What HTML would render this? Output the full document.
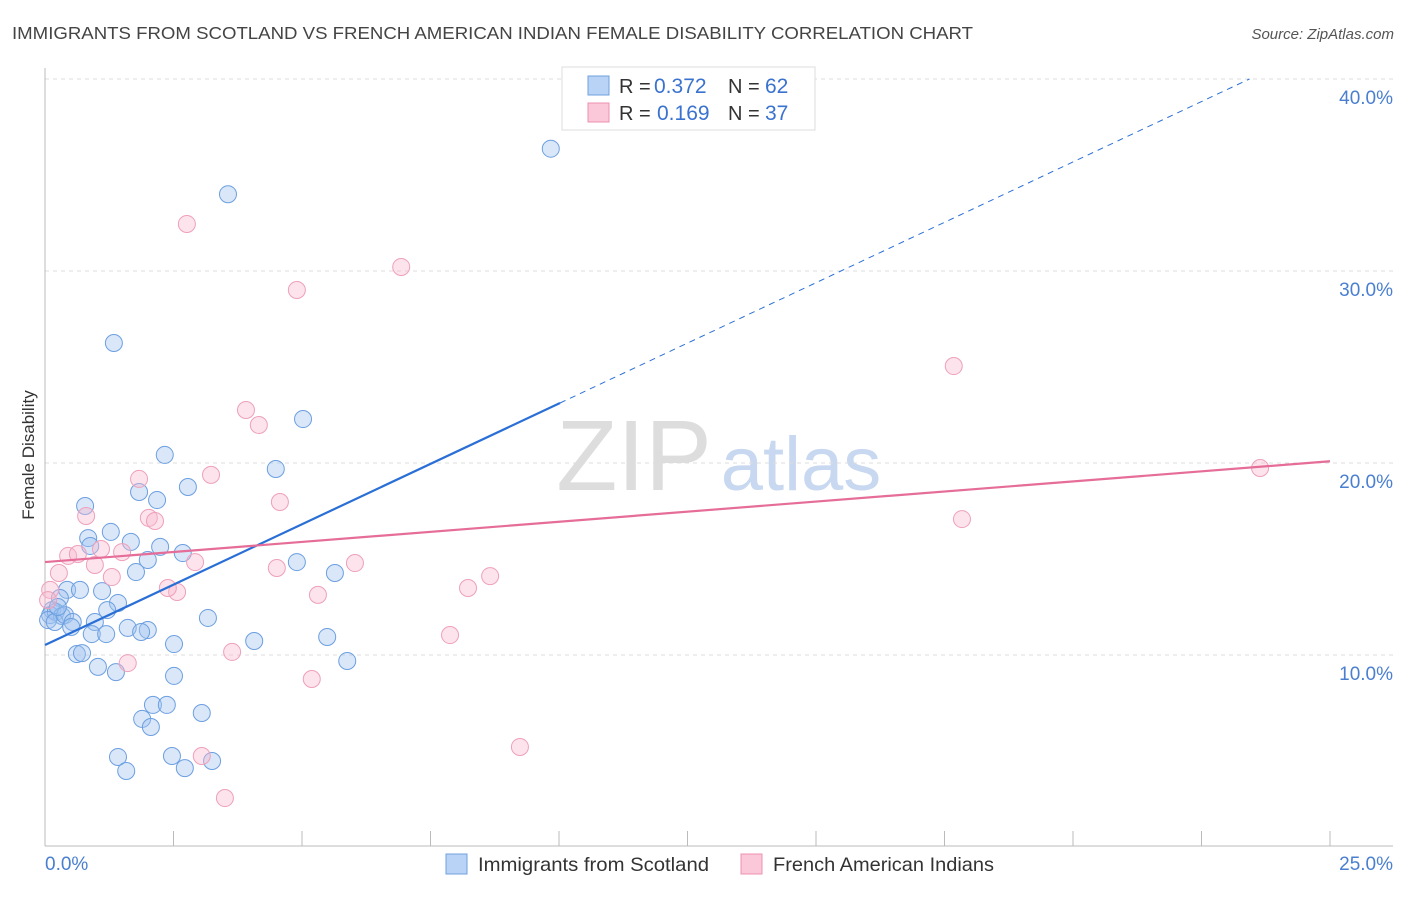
<!DOCTYPE html>
<html><head><meta charset="utf-8"><style>
body{margin:0;background:#fff;font-family:"Liberation Sans",sans-serif}
svg text{font-family:"Liberation Sans",sans-serif}
</style></head><body>
<svg id="chart" width="1406" height="892" xmlns="http://www.w3.org/2000/svg">
<text x="12" y="39" font-size="17.5" fill="#444" textLength="961" lengthAdjust="spacingAndGlyphs">IMMIGRANTS FROM SCOTLAND VS FRENCH AMERICAN INDIAN FEMALE DISABILITY CORRELATION CHART</text>
<text x="1394" y="39" font-size="15" fill="#555" text-anchor="end" font-style="italic">Source: ZipAtlas.com</text>
<text transform="translate(34,455) rotate(-90)" font-size="17" fill="#333" text-anchor="middle">Female Disability</text>
<g>
<text x="634" y="490" font-size="100" fill="#ddd" text-anchor="middle" font-family="Liberation Serif">ZIP</text>
<text x="801" y="490" font-size="76" fill="#c8d8f0" text-anchor="middle">atlas</text>
</g>
<g id="grid"></g><g id="axes"></g><g id="pts"></g><g id="lines"></g>
<g>
<rect x="562" y="67" width="253" height="63" fill="#fff" stroke="#ddd"/>
<rect x="588" y="76" width="21" height="19" fill="#b8d3f5" stroke="#6fa0e0"/>
<rect x="588" y="103" width="21" height="19" fill="#fac8d8" stroke="#ee90b0"/>
<text x="619" y="93" font-size="20" fill="#333">R =</text>
<text x="654" y="93" font-size="21" fill="#3a72d0">0.372</text>
<text x="728" y="93" font-size="20" fill="#333">N =</text>
<text x="765" y="93" font-size="21" fill="#3a72d0">62</text>
<text x="619" y="120" font-size="20" fill="#333">R =</text>
<text x="657" y="120" font-size="21" fill="#3a72d0">0.169</text>
<text x="728" y="120" font-size="20" fill="#333">N =</text>
<text x="765" y="120" font-size="21" fill="#3a72d0">37</text>
</g>
<g>
<rect x="446" y="854" width="21" height="20" fill="#b8d3f5" stroke="#6fa0e0"/>
<text x="478" y="871" font-size="19.5" fill="#333" textLength="231" lengthAdjust="spacingAndGlyphs">Immigrants from Scotland</text>
<rect x="741" y="854" width="21" height="20" fill="#fac8d8" stroke="#ee90b0"/>
<text x="773" y="871" font-size="19.5" fill="#333" textLength="221" lengthAdjust="spacingAndGlyphs">French American Indians</text>
</g>
</svg>
<script>
const yTicks=[10,20,30,40];
const yTickLabels=["10.0%","20.0%","30.0%","40.0%"];
const xLabels=["0.0%","25.0%"];
const blueX=[9.84,3.56,1.34,5.02,2.33,4.49,2.78,1.83,2.18,0.78,1.28,0.84,1.67,0.88,2.24,2.68,2.00,4.90,1.77,5.64,0.43,0.68,1.11,0.29,1.42,1.21,0.14,0.10,0.21,0.33,0.06,0.19,0.39,3.17,0.54,0.97,0.51,1.61,2.0,1.87,0.91,1.19,5.49,2.51,4.07,0.62,0.72,5.88,1.03,1.38,2.51,2.10,2.37,1.89,2.06,3.05,1.42,2.47,3.25,1.58,2.72,0.25];
const blueY=[36.37,34.0,26.25,22.29,20.42,19.69,18.75,18.49,18.07,17.76,16.41,16.09,15.89,15.68,15.63,15.31,14.95,14.84,14.32,14.27,13.39,13.39,13.33,12.97,12.71,12.34,12.34,12.08,12.24,12.03,11.82,11.72,12.08,11.93,11.72,11.72,11.46,11.41,11.30,11.2,11.09,11.09,10.94,10.57,10.73,10.05,10.10,9.69,9.38,9.11,8.91,7.40,7.40,6.67,6.25,6.98,4.69,4.74,4.48,3.96,4.11,12.5];
const pinkX=[2.76,6.93,4.90,17.68,3.91,4.16,3.23,1.83,4.57,0.80,2.02,2.14,17.84,23.64,1.09,1.50,0.45,0.64,0.97,2.92,6.03,0.27,4.51,1.30,8.66,8.23,2.57,2.39,5.31,0.10,0.06,7.88,3.64,1.61,5.19,3.05,9.24,3.50];
const pinkY=[32.45,30.21,29.01,25.05,22.76,21.98,19.38,19.17,17.97,17.24,17.14,16.98,17.08,19.74,15.52,15.36,15.16,15.26,14.69,14.84,14.79,14.27,14.53,14.06,14.11,13.49,13.28,13.49,13.13,13.39,12.86,11.04,10.16,9.58,8.75,4.74,5.21,2.55];
const blueTrend=[10.52,1.258];
const pinkTrend=[14.84,0.21];
const X=v=>45+v*51.4, Y=v=>847-v*19.2;
const NS="http://www.w3.org/2000/svg";
function mk(tag,attrs,parent){const e=document.createElementNS(NS,tag);for(const k in attrs)e.setAttribute(k,attrs[k]);document.getElementById(parent).appendChild(e);return e;}
yTicks.forEach((t,i)=>{
 const g=mk('line',{x1:45,x2:1393,y1:Y(t),y2:Y(t),stroke:'#ddd','stroke-dasharray':'4,4'},'grid');
 
 
 const l=mk('text',{x:1393,y:Y(t)+25,'font-size':19,fill:'#4a7fd0','text-anchor':'end'},'axes');
 l.textContent=yTickLabels[i];
 
 
});
mk('line',{x1:45,x2:45,y1:68,y2:846,stroke:'#bbb'},'axes');
const xa=mk('line',{x1:45,x2:1393,y1:846,y2:846,stroke:'#bbb'},'axes');


for(let i=0;i<=10;i++){mk('line',{x1:X(i*2.5),x2:X(i*2.5),y1:831,y2:846,stroke:'#bbb'},'axes');}
[[0,'start',45],[25,'end',1393]].forEach((a,i)=>{const t=mk('text',{x:a[2],y:870,'font-size':19,fill:'#4a7fd0','text-anchor':a[1]},'axes');t.textContent=xLabels[i];
 
 });
blueX.forEach((v,i)=>{const c=mk('circle',{cx:X(v),cy:Y(blueY[i]),r:8.5,fill:'rgba(160,196,240,0.4)',stroke:'#6c9fe0','stroke-width':1},'pts');
 
 });
pinkX.forEach((v,i)=>{const c=mk('circle',{cx:X(v),cy:Y(pinkY[i]),r:8.5,fill:'rgba(248,185,208,0.4)',stroke:'#eea0bb','stroke-width':1},'pts');
 
 });
const bl=(x)=>blueTrend[0]+blueTrend[1]*x, pl=(x)=>pinkTrend[0]+pinkTrend[1]*x;
const b1=mk('line',{x1:X(0),y1:Y(bl(0)),x2:X(10.02),y2:Y(bl(10.02)),stroke:'#2a6fd6','stroke-width':2.2},'lines');


const xe=(40-blueTrend[0])/blueTrend[1];
const b2=mk('line',{x1:X(10.02),y1:Y(bl(10.02)),x2:X(xe),y2:Y(40),stroke:'#2a6fd6','stroke-width':1,'stroke-dasharray':'6,5'},'lines');


const p1=mk('line',{x1:X(0),y1:Y(pl(0)),x2:X(25),y2:Y(pl(25)),stroke:'#e56d98','stroke-width':2.2},'lines');


</script>
</body></html>
